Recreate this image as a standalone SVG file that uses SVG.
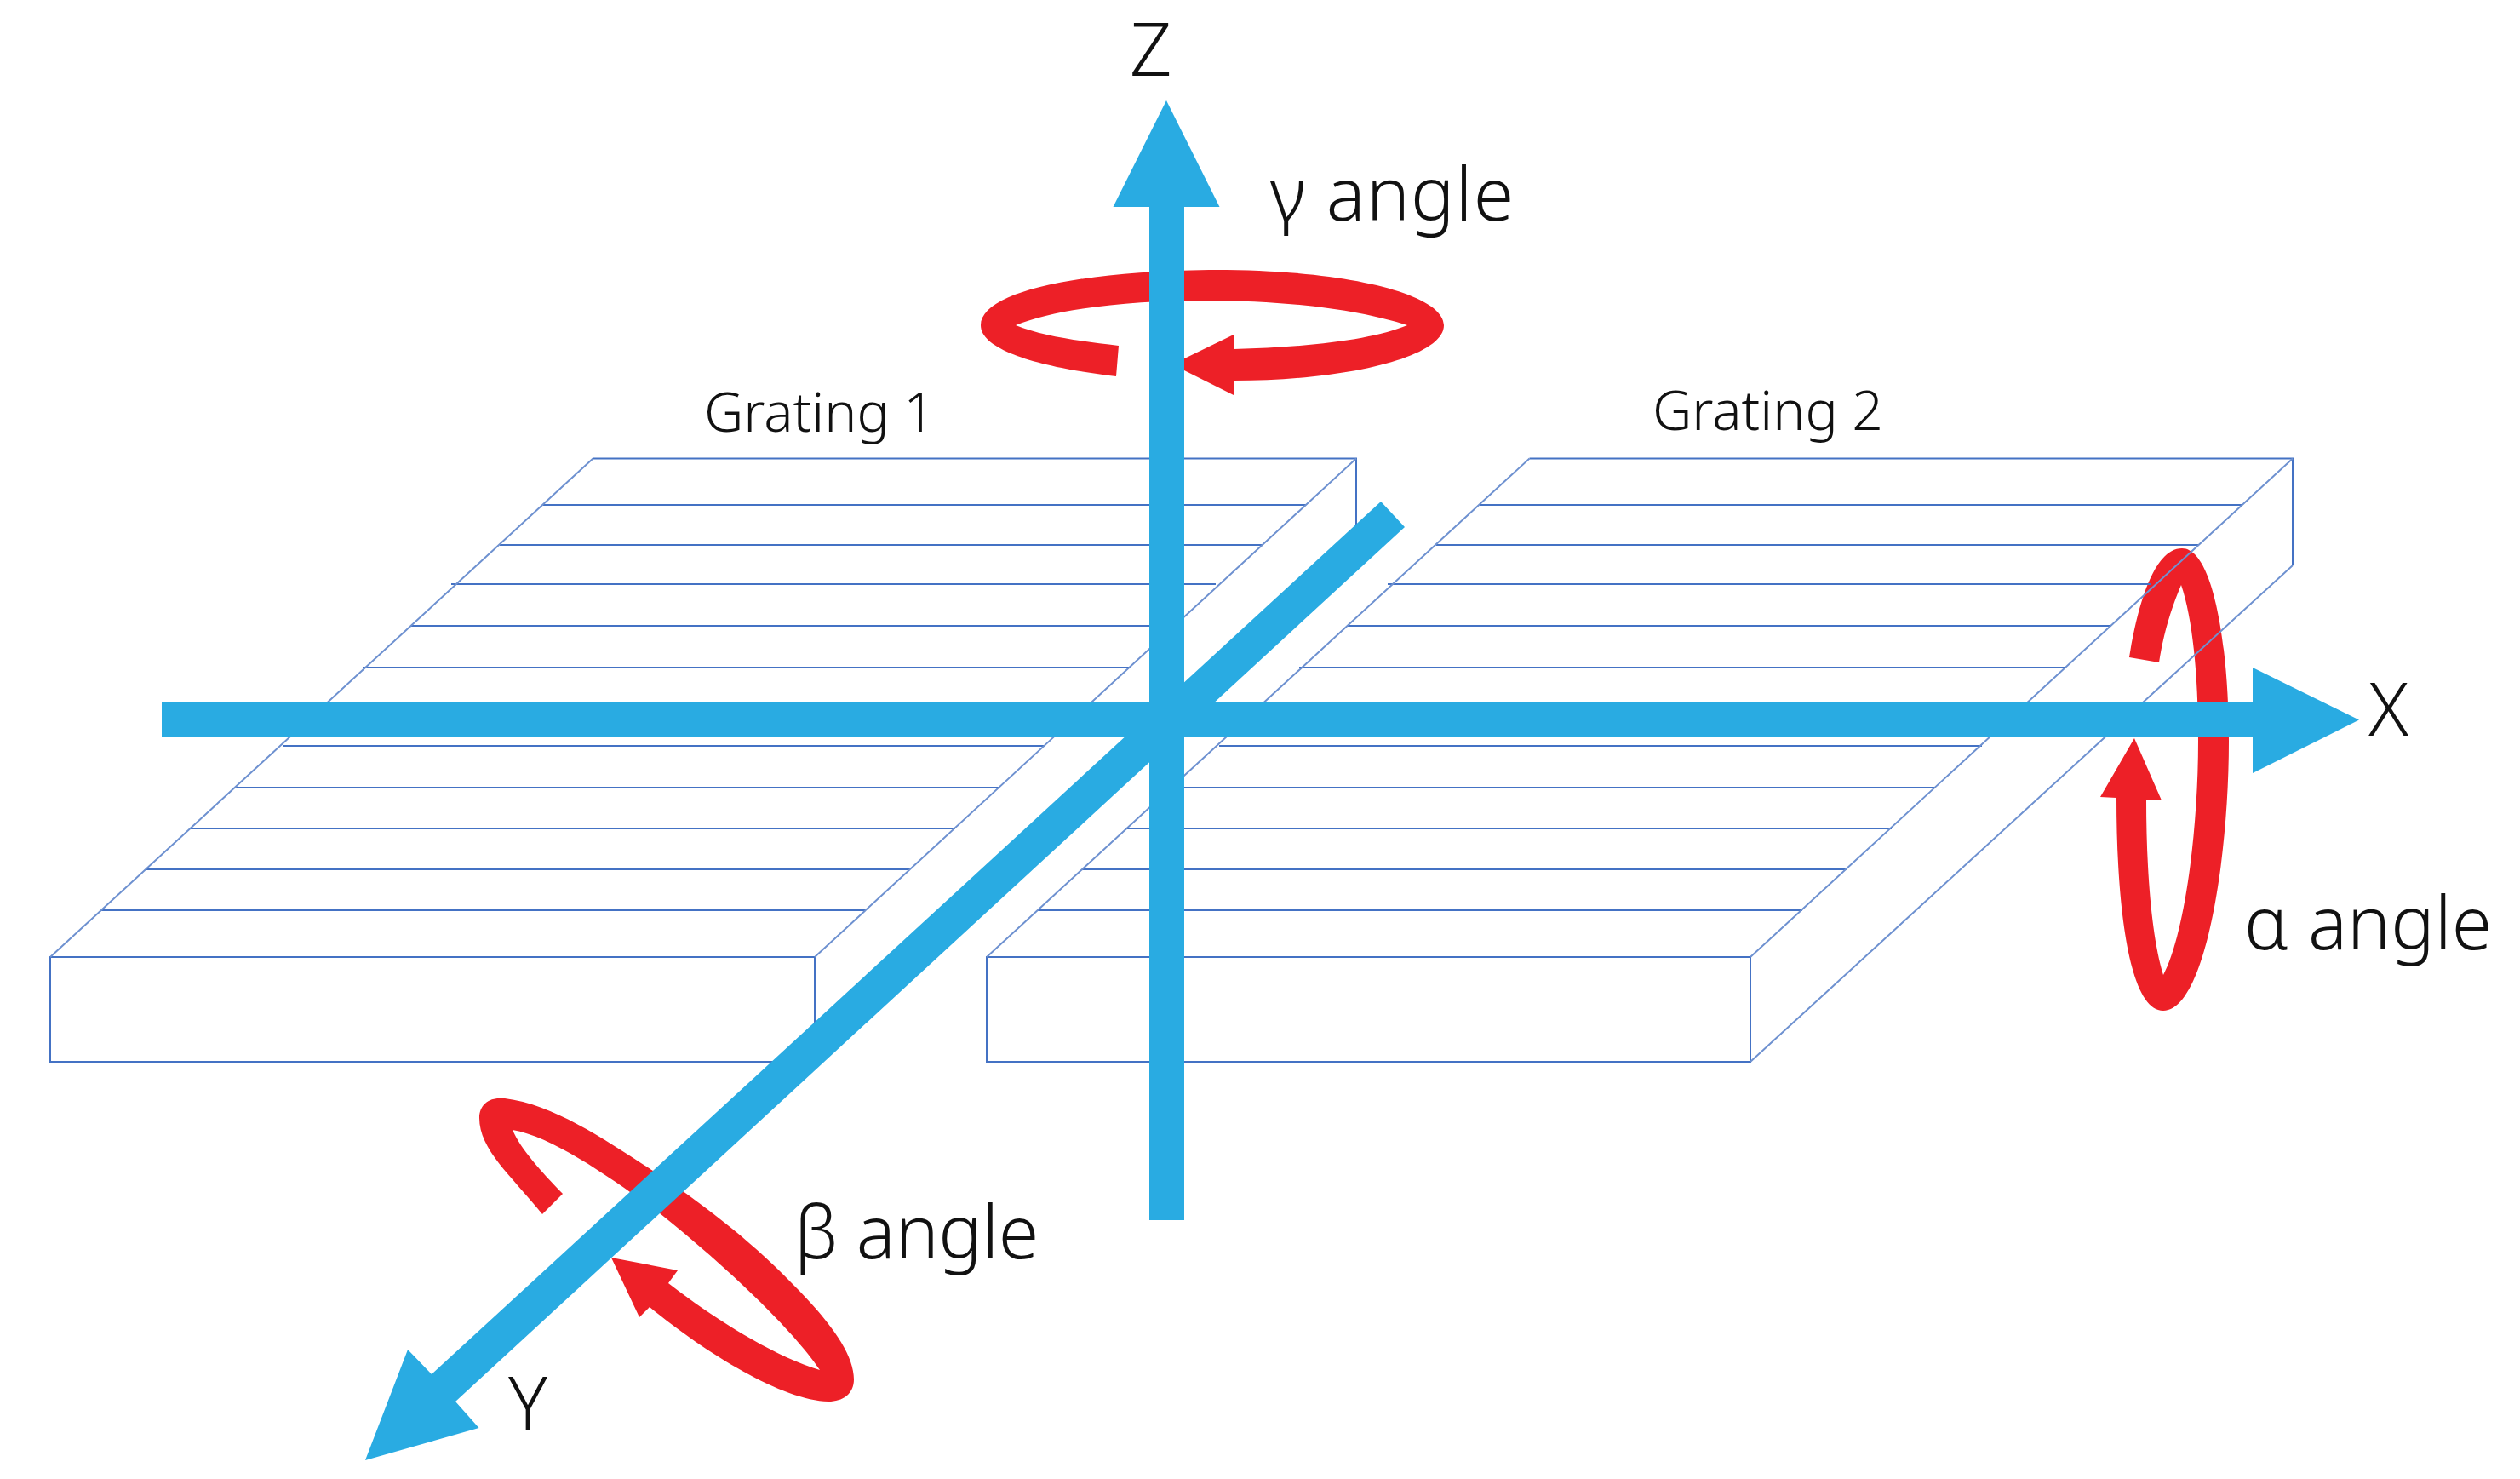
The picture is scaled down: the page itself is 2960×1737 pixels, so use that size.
<svg xmlns="http://www.w3.org/2000/svg" width="2960" height="1737" viewBox="0 0 2960 1737">
<style>
.g{fill:none;stroke:#4472C4;stroke-width:2}
.s{fill:none;stroke:#6E91D0;stroke-width:2}
.r{fill:#ED2027}
.b{fill:#29ABE2}
text{font-family:"Noto Sans","Roboto",sans-serif;font-weight:300;fill:#111}
.ax{font-size:86px}
.an{font-size:86px}
.gl{font-size:64px}
</style>
<rect width="2960" height="1737" fill="#fff"/>
<g id="rotations">
<path id="gamma-arrow" class="r" d="M1311 442C1225 432 1152 412 1152 382C1152 344 1260 319 1420 317C1580 316 1696 345 1696 382C1696 420 1580 447 1449 447L1449 464L1377 428L1449 393L1449 410C1540 408 1615 398 1653 382C1600 365 1520 353 1415 353C1330 353 1240 362 1193 382C1225 395 1265 400 1314 406Z"/>
<path id="alpha-arrow" class="r" d="M2501 772C2511 710 2530 644 2563 644C2600 644 2618 760 2618 870C2618 1010 2590 1187 2541 1187C2500 1187 2486 1060 2486 937L2467 936L2507 867L2539 940L2521 939C2521 1020 2527 1100 2541 1145C2565 1100 2582 980 2582 870C2582 790 2575 725 2562 687C2550 715 2541 745 2536 778Z"/>
<path id="beta-arrow" class="r" d="M637 1426C600 1380 563 1350 563 1313C563 1297 575 1288 593 1290C650 1297 710 1338 767 1375C820 1410 880 1455 930 1507C975 1552 1003 1590 1003 1620C1003 1637 990 1646 973 1646C920 1645 830 1590 763 1535L751 1547L718 1477L796 1492L785 1507C830 1542 905 1592 963 1609C930 1560 850 1485 775 1425C720 1385 650 1335 602 1327C612 1350 635 1375 661 1402Z"/>
</g>
<g id="grating1">
<path class="g" d="M59 1124H957V1247H59ZM696.500 538.500H1593V661M638 593H1534M587 640H1483M530 686H1428M482 735H1380M426 784H1326M332 876H1228M276 925H1174M224 973H1122M171 1021H1069M119 1069H1017"/>
<path class="s" d="M59 1124L696.500 538.500M957 1124L1593 538.500M957 1247L1593 661"/>
<text class="gl" x="827" y="507">Grating 1</text>
</g>
<g id="grating2">
<path class="g" d="M1159 1124H2056V1247H1159ZM1796.500 538.500H2693V664M1738 593H2634M1687 640H2583M1630 686H2526M1582 735H2480M1526 784H2426M1432 876H2328M1376 925H2274M1324 973H2222M1271 1021H2169M1219 1069H2117"/>
<path class="s" d="M1159 1124L1796.500 538.500M2056 1124L2693 538.500M2056 1247L2693 664"/>
<text class="gl" x="1941" y="505">Grating 2</text>
</g>
<g id="connectors">
<path id="y-axis" class="b" d="M429 1715L479 1585L507 1614L1622 589L1650 619L535 1646L562.500 1677Z"/>
<path id="x-axis" class="b" d="M190 825H2646V784L2771 845.500L2646 908V866H190Z"/>
<path id="z-axis" class="b" d="M1370 118L1432.500 243H1391V1433H1350V243H1307.500Z"/>
</g>
<g id="labels">
<text class="ax" x="1327" y="89">Z</text>
<text class="ax" x="2782" y="864">X</text>
<text class="ax" x="597" y="1679">Y</text>
<text class="an" x="1492" y="259" letter-spacing="1">γ angle</text>
<text class="an" x="2636" y="1115">α angle</text>
<text class="an" x="933" y="1478" letter-spacing="-0.500">β angle</text>
</g>
</svg>
